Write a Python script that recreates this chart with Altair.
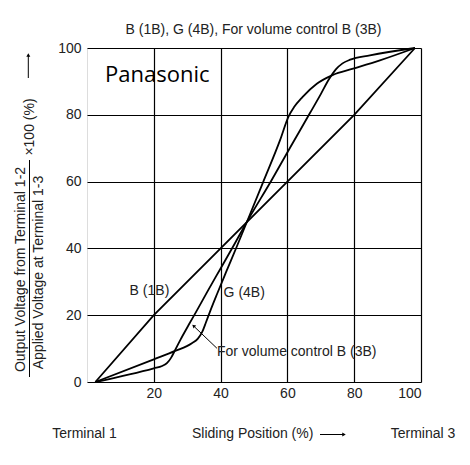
import altair as alt
import pandas as pd

# ---- data ----
pos_B = [2.5, 20, 40, 60, 80, 98.2]
out_B = [0, 20, 40, 60, 80, 100]

pos_A = [2.5, 20, 22.5, 24.0, 25.2, 26.4, 28.0, 30.5, 33.0, 36.0, 40.0, 44.0, 47.9,
         55.3, 61.0, 66.8, 70.0, 72.3, 74.5, 76.5, 78.8, 84.7, 98.2]
out_A = [0, 4.1, 4.8, 5.7, 7.3, 9.6, 12.7, 17.2, 21.6, 27.0, 34.0, 41.0, 48.0,
         60.5, 70.5, 80.6, 86.2, 90.4, 93.6, 95.4, 96.5, 97.8, 100]

pos_C = [2.5, 20, 26.4, 31.4, 33.2, 34.5, 35.6, 36.8, 39.0, 41.6, 44.7, 47.9,
         52.8, 57.8, 60.3, 62.0, 64.5, 68.8, 73.5, 79.7, 87.7, 98.2]
out_C = [0, 6.8, 9.3, 11.6, 13.0, 15.0, 17.8, 21.0, 26.5, 32.8, 40.2, 48.0,
         60.0, 72.4, 79.4, 82.3, 85.3, 89.3, 91.9, 93.8, 96.3, 100]

x_ticks = [20, 40, 60, 80, 100]
y_ticks = [0, 20, 40, 60, 80, 100]

title_text = "B (1B), G (4B), For volume control B (3B)"
brand_text = "Panasonic"
label_texts = ["B (1B)", "G (4B)", "For volume control B (3B)"]
label_x = [18.7, 40.9, 38.9]
label_y = [27.1, 26.5, 8.9]
label_align = ["center", "left", "left"]
arrow_from = (38.9, 10.1)
arrow_to = (31.9, 16.8)
num_text = "Output Voltage from Terminal 1-2"
den_text = "Applied Voltage at Terminal 1-3"
mult_text = "×100 (%)"
bottom_texts = ["Terminal 1", "Sliding Position (%)", "Terminal 3"]

FONT = "Liberation Sans"
TXT = "#222222"
FS = 14
W = H = 334

xs = alt.Scale(domain=[0, 100], nice=False)
ys = alt.Scale(domain=[0, 100], nice=False)

xaxis = alt.Axis(values=x_ticks, title=None, grid=True, gridColor="black", gridWidth=1.2,
                 gridOpacity=1, domain=False, ticks=False, labelFontSize=FS, labelColor=TXT,
                 labelFont=FONT, labelPadding=4)
yaxis = alt.Axis(values=y_ticks, title=None, grid=True, gridColor="black", gridWidth=1.2,
                 gridOpacity=1, domain=False, ticks=False, labelFontSize=FS, labelColor=TXT,
                 labelFont=FONT, labelPadding=6)

dfB = pd.DataFrame({"x": pos_B, "y": out_B})
curves = pd.concat([
    pd.DataFrame({"x": pos_A, "y": out_A, "s": "A"}),
    pd.DataFrame({"x": pos_C, "y": out_C, "s": "C"}),
])

lineB = alt.Chart(dfB).mark_line(color="black", strokeWidth=1.8).encode(
    x=alt.X("x:Q", scale=xs, axis=xaxis), y=alt.Y("y:Q", scale=ys, axis=yaxis))
lineS = alt.Chart(curves).mark_line(color="black", strokeWidth=1.8, interpolate="monotone").encode(
    x=alt.X("x:Q", scale=xs), y=alt.Y("y:Q", scale=ys), detail="s:N")

labels_df = pd.DataFrame({"x": label_x, "y": label_y, "t": label_texts})
lab_layers = []
for i in range(len(label_texts)):
    lab_layers.append(
        alt.Chart(labels_df.iloc[[i]]).mark_text(font=FONT, fontSize=FS, color=TXT,
                                                  align=label_align[i], baseline="middle").encode(
            x=alt.X("x:Q", scale=xs), y=alt.Y("y:Q", scale=ys), text="t:N"))

arr_df = pd.DataFrame({"x": [arrow_from[0]], "y": [arrow_from[1]],
                       "x2": [arrow_to[0] + 0.4], "y2": [arrow_to[1] - 0.4]})
arr_rule = alt.Chart(arr_df).mark_rule(color="black", strokeWidth=1).encode(
    x=alt.X("x:Q", scale=xs), y=alt.Y("y:Q", scale=ys), x2="x2:Q", y2="y2:Q")
arr_head = alt.Chart(pd.DataFrame({"x": [arrow_to[0]], "y": [arrow_to[1]]})).mark_point(
    shape="triangle-up", filled=True, color="black", size=16, angle=311, opacity=1).encode(
    x=alt.X("x:Q", scale=xs), y=alt.Y("y:Q", scale=ys))


def txt(t, px, py, size=FS, angle=0, align="center", font=FONT, color=TXT):
    kw = dict(font=font, fontSize=size, color=color, align=align, baseline="middle")
    if angle:
        kw["angle"] = angle
    return alt.Chart(pd.DataFrame({"t": [t]})).mark_text(**kw).encode(
        x=alt.value(px), y=alt.value(py), text="t:N")


def rule(px1, py1, px2, py2, w=1.0):
    return alt.Chart(pd.DataFrame({"t": [0]})).mark_rule(color="black", strokeWidth=w).encode(
        x=alt.value(px1), y=alt.value(py1), x2=alt.value(px2), y2=alt.value(py2))


def head(px, py, shape):
    return alt.Chart(pd.DataFrame({"t": [0]})).mark_point(
        shape=shape, filled=True, color="black", size=16, opacity=1).encode(
        x=alt.value(px), y=alt.value(py))


extras = [
    txt(title_text, 166.5, -18),
    txt(brand_text, 18, 27, size=22, align="left", font="Open Sans", color="black"),
    txt(num_text, -66, 221.5, angle=270),
    rule(-57.5, 112, -57.5, 329),
    txt(den_text, -48, 224.5, angle=270),
    txt(mult_text, -57, 79, angle=270),
    rule(-58.7, 30, -58.7, 8),
    head(-58.7, 7, "triangle-up"),
    txt(bottom_texts[0], -2.5, 386),
    txt(bottom_texts[1], 105, 386, align="left"),
    rule(233, 386.5, 256, 386.5),
    head(257, 386.5, "triangle-right"),
    txt(bottom_texts[2], 336, 386),
]

chart = alt.layer(lineB, lineS, *lab_layers, arr_rule, arr_head, *extras).properties(
    width=W, height=H,
    autosize=alt.AutoSizeParams(type="none"),
    padding={"left": 79, "top": 40, "right": 40, "bottom": 70},
).configure_view(stroke="black", strokeWidth=1.5).configure(background="white")

chart.save("out.html", embed_options={"renderer": "svg", "actions": False})
